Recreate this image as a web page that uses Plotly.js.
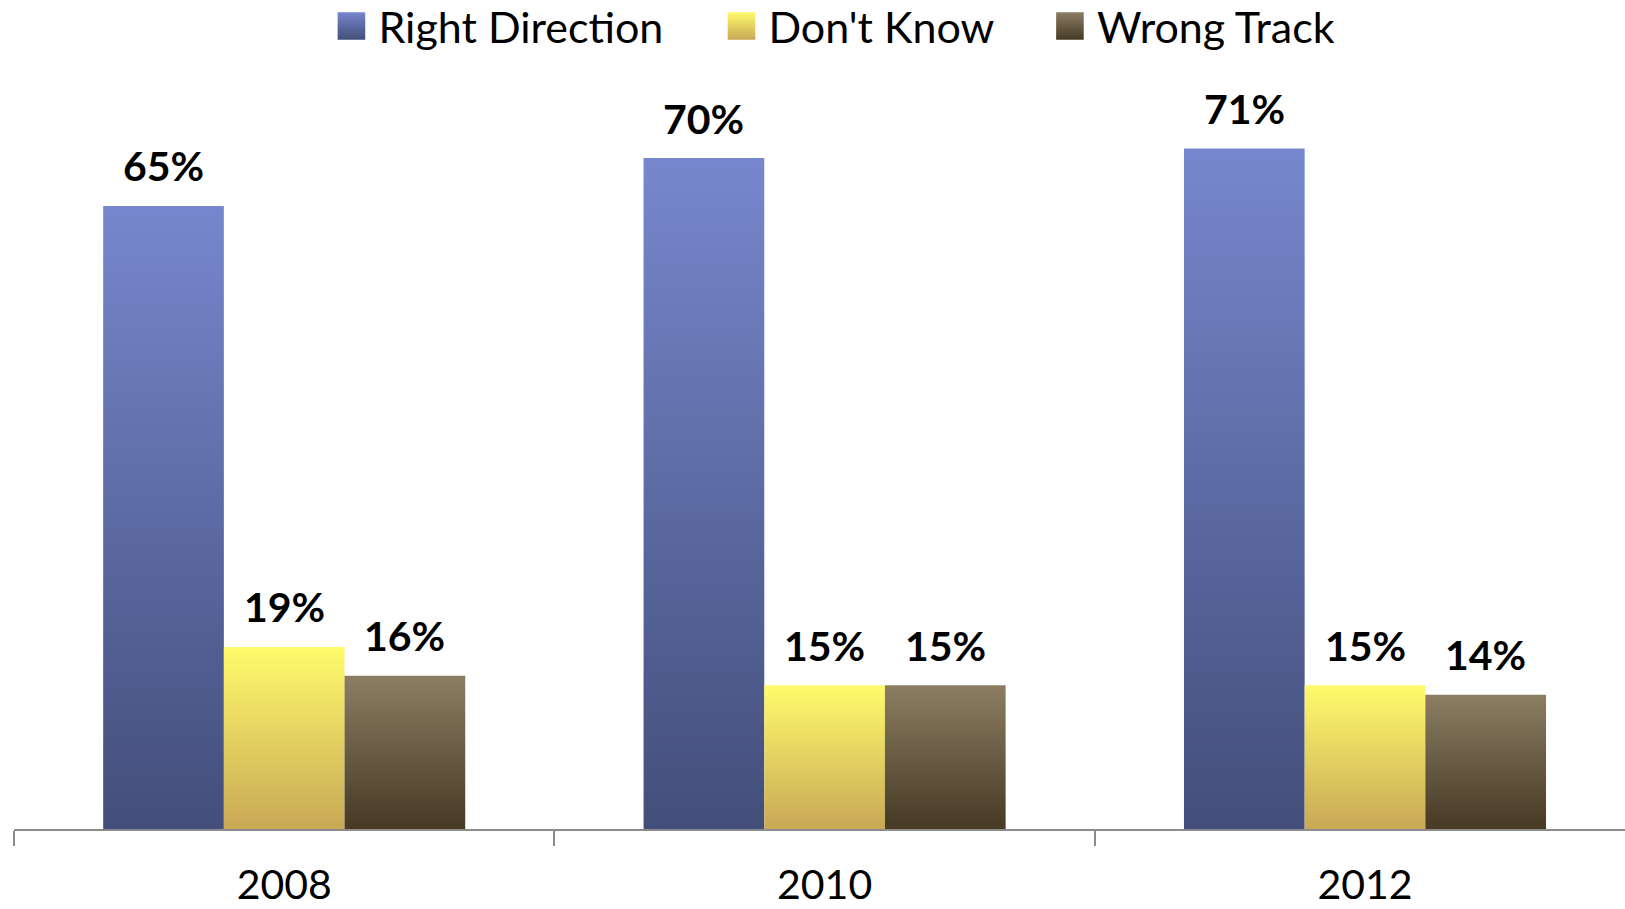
<!DOCTYPE html>
<html>
<head>
<meta charset="utf-8">
<script src="https://cdn.plot.ly/plotly-3.0.1.min.js"></script>
<style>
  html, body { margin: 0; padding: 0; background: #ffffff; }
  #chart { width: 1625px; height: 909px; }
</style>
</head>
<body>
<svg width="0" height="0" style="position:absolute">
  <defs>
    <linearGradient id="grad0" x1="0" y1="0" x2="0" y2="1">
      <stop offset="0" stop-color="#7787cd"/>
      <stop offset="1" stop-color="#434e7a"/>
    </linearGradient>
    <linearGradient id="grad1" x1="0" y1="0" x2="0" y2="1">
      <stop offset="0" stop-color="#fffb6c"/>
      <stop offset="1" stop-color="#c8a856"/>
    </linearGradient>
    <linearGradient id="grad2" x1="0" y1="0" x2="0" y2="1">
      <stop offset="0" stop-color="#8b7e63"/>
      <stop offset="1" stop-color="#463a25"/>
    </linearGradient>
  </defs>
</svg>
<div id="chart"></div>
<script>
// ---- data ----
const categories = ['2008', '2010', '2012'];
const seriesNames = ['Right Direction', "Don't Know", 'Wrong Track'];
const rightDirection = [65, 70, 71];
const dontKnow = [19, 15, 15];
const wrongTrack = [16, 15, 14];

// ---- styling ----
const baseColors = ['#5c69a2', '#ecd466', '#66573d'];
const FONT = 'Lato, "Open Sans", "DejaVu Sans", sans-serif';
const BARGAP = 0.33;
const legendIds = ['legend', 'legend2', 'legend3'];
const legendX = [0.1927, 0.4348, 0.6387];

const allSeries = [rightDirection, dontKnow, wrongTrack];

const traces = allSeries.map((vals, i) => ({
  type: 'bar',
  name: seriesNames[i],
  x: categories,
  y: vals,
  marker: { color: baseColors[i], line: { width: 0 } },
  legend: legendIds[i],
  hoverinfo: 'skip'
}));

const nS = allSeries.length;
const barW = (1 - BARGAP) / nS;
const annotations = [];
allSeries.forEach((vals, i) => {
  vals.forEach((v, j) => {
    annotations.push({
      x: j + (i - (nS - 1) / 2) * barW,
      y: v,
      xref: 'x', yref: 'y',
      text: v + '%',
      showarrow: false,
      yanchor: 'middle',
      yshift: 40,
      font: { family: FONT, size: 41, color: '#000000', weight: 700 }
    });
  });
});

const layout = {
  width: 1625,
  height: 909,
  margin: { l: 14, r: 0, t: 60, b: 80, pad: 0, autoexpand: false },
  paper_bgcolor: '#ffffff',
  plot_bgcolor: '#ffffff',
  barmode: 'group',
  bargap: BARGAP,
  bargroupgap: 0,
  font: { family: FONT, size: 41, color: '#000000' },
  xaxis: {
    type: 'category',
    range: [-0.5, -0.5 + 1611 / 540.4],
    showline: true,
    linecolor: '#8c8c8c',
    linewidth: 2,
    ticks: 'outside',
    tickson: 'boundaries',
    ticklen: 15,
    tickwidth: 2,
    tickcolor: '#8c8c8c',
    showgrid: false,
    zeroline: false,
    ticklabelstandoff: 19,
    tickfont: { family: FONT, size: 41, color: '#000000' }
  },
  yaxis: {
    range: [0, 80.23],
    visible: false,
    showgrid: false,
    zeroline: false
  },
  annotations: annotations,
  showlegend: true
};
legendIds.forEach((id, i) => {
  layout[id] = {
    orientation: 'h',
    x: legendX[i],
    xanchor: 'left',
    y: 1.0442,
    yanchor: 'middle',
    itemwidth: 44,
    bgcolor: 'rgba(0,0,0,0)',
    borderwidth: 0,
    font: { family: FONT, size: 43, color: '#000000' }
  };
});

Plotly.newPlot('chart', traces, layout, { staticPlot: true, responsive: false }).then(gd => {
  // vertical gradients on bars
  gd.querySelectorAll('.barlayer .trace').forEach(tr => {
    const d = tr.__data__;
    const idx = d && d[0] && d[0].trace ? d[0].trace.index : null;
    if (idx === null) return;
    tr.querySelectorAll('path').forEach(p => { p.style.fill = 'url(#grad' + idx + ')'; });
  });
  // larger, gradient legend swatches
  gd.querySelectorAll('.infolayer g.traces').forEach(g => {
    const d = g.__data__;
    const idx = d && d[0] && d[0].trace ? d[0].trace.index : null;
    if (idx === null) return;
    g.querySelectorAll('.legendpoints path').forEach(p => {
      const t = p.getAttribute('transform') || '';
      p.setAttribute('transform', t + ' scale(2.3)');
      p.style.fill = 'url(#grad' + idx + ')';
      p.style.strokeWidth = '0';
    });
  });
});
</script>
</body>
</html>
